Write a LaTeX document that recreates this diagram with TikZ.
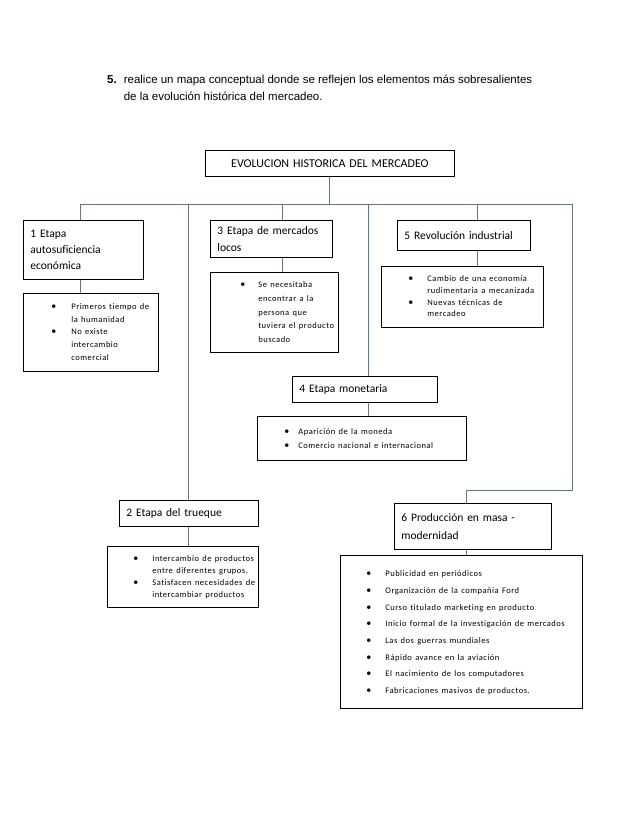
\documentclass[tikz,border=0pt]{standalone}
\usepackage{fontspec}
\setmainfont[Ligatures=NoCommon]{Carlito}
\newfontfamily\arialf{Liberation Sans}
\newfontfamily\smallf[LetterSpace=6,Ligatures=NoCommon]{Carlito}
\definecolor{conncol}{RGB}{84,120,150}
\newcommand\bl[1]{{\fontsize{10}{0}\selectfont\textbullet} & #1\\}
\newcommand\cl[1]{& #1\\}
\begin{document}
\begin{tikzpicture}[x=1pt,y=-1pt,
  box/.style={draw, line width=0.8pt, inner xsep=7pt, inner ysep=0pt, anchor=north west, align=left, font=\fontsize{11.5}{17}\selectfont},
  bbox/.style={draw, line width=0.8pt, inner sep=0pt, anchor=north west, align=left},
  link/.style={draw=conncol, line width=0.9pt}]
\useasboundingbox (0,0) rectangle (638,826);

\node[anchor=base west, inner sep=0pt, font=\arialf\fontsize{11.5}{17}\selectfont] (hdr) at (107,84)
  {\begin{tabular}[t]{@{}l@{\hspace{7pt}}l@{}}\textbf{5.} & realice un mapa conceptual donde se reflejen los elementos más sobresalientes\\
   & de la evolución histórica del mercadeo.\end{tabular}};

\node[box, align=center, text width=235pt, minimum height=26pt, font=\fontsize{12}{17}\selectfont] (main) at (205,150) {EVOLUCION HISTORICA DEL MERCADEO};

\node[box, text width=106pt, minimum height=59pt, font=\fontsize{11.5}{16}\selectfont] (b1) at (23,220) {1 Etapa\\autosuficiencia\\económica};
\node[box, text width=108pt, minimum height=37pt] (b3) at (210,220) {3 Etapa de mercados\\locos};
\node[box, text width=119pt, minimum height=30pt] (b5) at (397,220) {5 Revolución industrial};
\node[box, text width=131pt, minimum height=26pt] (b4) at (292,376) {4 Etapa monetaria};
\node[box, text width=125pt, minimum height=26pt] (b2) at (119,500) {2 Etapa del trueque};
\node[box, text width=143pt, minimum height=46pt, font=\fontsize{11.5}{18}\selectfont] (b6) at (394,503) {6 Producción en masa -\\modernidad};

\node[bbox, text width=135pt, minimum height=78pt] (p1) at (23,293)
  {\smallf\fontsize{8.5}{12.7}\selectfont\begin{tabular}{@{\hspace{28pt}}l@{\hspace{15pt}}l@{}}
  \bl{Primeros tiempo de}\cl{la humanidad}\bl{No existe}\cl{intercambio}\cl{comercial}\end{tabular}};
\node[bbox, text width=128pt, minimum height=80pt] (p3) at (210,272)
  {\smallf\fontsize{8.5}{13.7}\selectfont\begin{tabular}{@{\hspace{30pt}}l@{\hspace{13pt}}l@{}}
  \bl{Se necesitaba}\cl{encontrar a la}\cl{persona que}\cl{tuviera el producto}\cl{buscado}\end{tabular}};
\node[bbox, text width=162pt, minimum height=61pt] (p5) at (381,266)
  {\smallf\fontsize{8.5}{11.7}\selectfont\begin{tabular}{@{\hspace{27pt}}l@{\hspace{14pt}}l@{}}
  \bl{Cambio de una economía}\cl{rudimentaria a mecanizada}\bl{Nuevas técnicas de}\cl{mercadeo}\end{tabular}};
\node[bbox, text width=209pt, minimum height=44pt] (p4) at (257,416)
  {\smallf\fontsize{8.5}{14}\selectfont\begin{tabular}{@{\hspace{27pt}}l@{\hspace{9pt}}l@{}}
  \bl{Aparición de la moneda}\bl{Comercio nacional e internacional}\end{tabular}};
\node[bbox, text width=151pt, minimum height=61pt] (p2) at (107,546)
  {\smallf\fontsize{8.5}{12}\selectfont\begin{tabular}{@{\hspace{26pt}}l@{\hspace{14pt}}l@{}}
  \bl{Intercambio de productos}\cl{entre diferentes grupos.}\bl{Satisfacen necesidades de}\cl{intercambiar productos}\end{tabular}};
\node[bbox, text width=242pt, minimum height=153pt] (p6) at (340,555)
  {\smallf\fontsize{8.5}{16.7}\selectfont\begin{tabular}{@{\hspace{26pt}}l@{\hspace{14pt}}l@{}}
  \bl{Publicidad en periódicos}\bl{Organización de la compañía Ford}\bl{Curso titulado marketing en producto}
  \bl{Inicio formal de la investigación de mercados}\bl{Las dos guerras mundiales}\bl{Rápido avance en la aviación}
  \bl{El nacimiento de los computadores}\bl{Fabricaciones masivos de productos.}\end{tabular}};

\coordinate (hl) at (80,204);
\coordinate (hr) at (572,204);
\coordinate (v2) at (188,204);
\coordinate (v3) at (282,204);
\coordinate (v4) at (368,204);
\coordinate (v5) at (477,204);
\coordinate (elbow) at (572,490);
\coordinate (v6) at (466,490);

\draw[link] (main.south) -- (main.south |- hl);
\draw[link] (hl) -- (hr);
\draw[link] (hl) -- (hl |- b1.north);
\draw[link] (hl |- b1.south) -- (hl |- p1.north);
\draw[link] (v2) -- (v2 |- b2.north);
\draw[link] (v2 |- b2.south) -- (v2 |- p2.north);
\draw[link] (v3) -- (v3 |- b3.north);
\draw[link] (v3 |- b3.south) -- (v3 |- p3.north);
\draw[link] (v4) -- (v4 |- b4.north);
\draw[link] (v4 |- b4.south) -- (v4 |- p4.north);
\draw[link] (v5) -- (v5 |- b5.north);
\draw[link] (v5 |- b5.south) -- (v5 |- p5.north);
\draw[link] (hr) -- (elbow) -- (v6) -- (v6 |- b6.north);
\draw[link] (v6 |- b6.south) -- (v6 |- p6.north);
\end{tikzpicture}
\end{document}
